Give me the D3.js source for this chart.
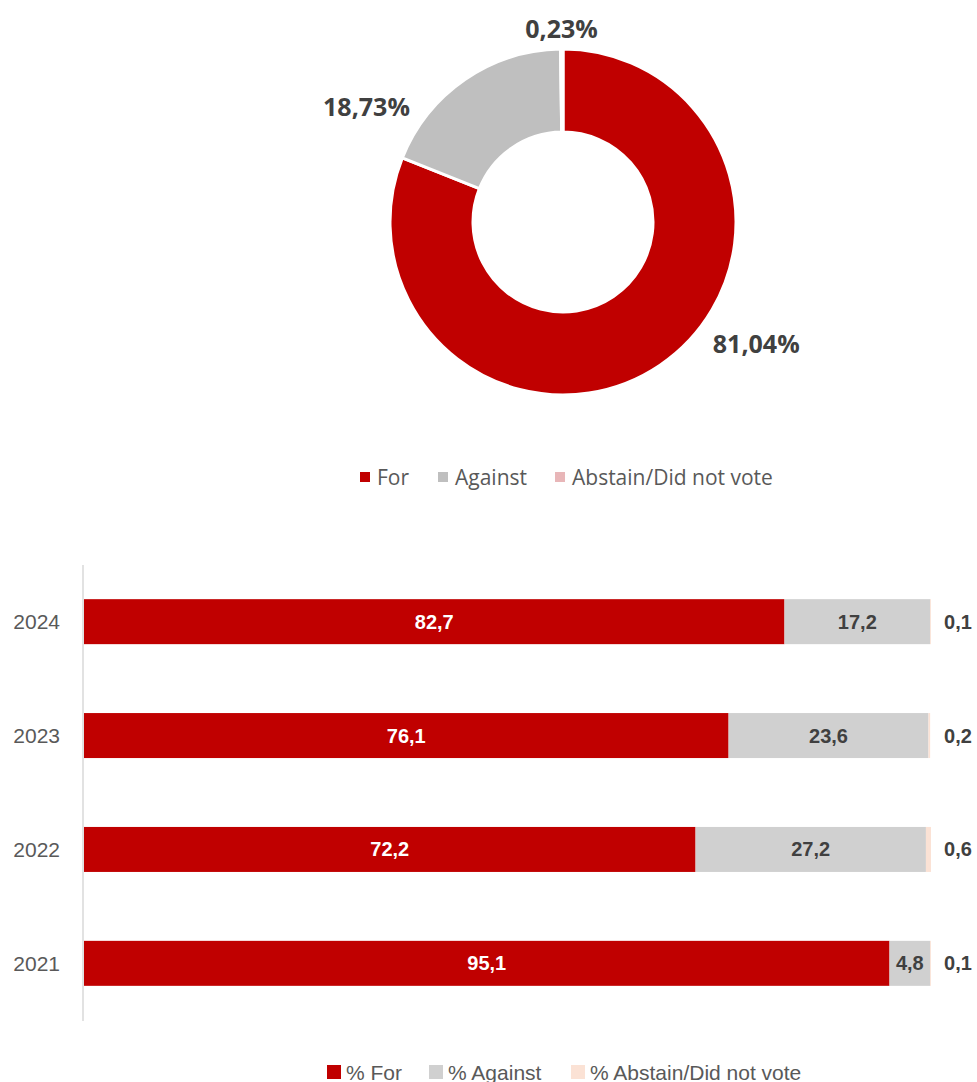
<!DOCTYPE html>
<html>
<head>
<meta charset="utf-8">
<script src="https://cdn.jsdelivr.net/npm/d3@7"></script>
<style>
  body { margin: 0; background: #fff; }
  svg { display: block; }
</style>
</head>
<body>
<div id="chart"></div>
<script>
(function() {

  let width  = 977,
      height = 1082;

  // donut data (latest vote)
  let donutLabels = ["For", "Against", "Abstain/Did not vote"];
  let donutValues = [81.04, 18.73, 0.23];
  let donutColors = ["#C00000", "#BFBFBF", "#E8B6B8"];

  // bar data (by year)
  let years       = ["2024", "2023", "2022", "2021"];
  let forVals     = [82.7, 76.1, 72.2, 95.1];
  let againstVals = [17.2, 23.6, 27.2, 4.8];
  let abstainVals = [0.1, 0.2, 0.6, 0.1];
  let barSeries   = ["% For", "% Against", "% Abstain/Did not vote"];
  let barColors   = ["#C00000", "#D0D0D0", "#FBE2D5"];

  let fmt = (v, d) => v.toFixed(d).replace(".", ",");

  let svg = d3.select("#chart")
    .append("svg")
    .attr  ("width", width)
    .attr  ("height", height);

  // ---------- donut ----------
  let cx = 563, cy = 222;
  let outerR = 173, innerR = 90;

  let pie = d3.pie().sort(null).value(d => d.value);
  let donutData = donutLabels.map((l, i) => ({ label: l, value: donutValues[i], color: donutColors[i] }));
  let arcs = pie(donutData);

  let arc = d3.arc().innerRadius(innerR).outerRadius(outerR);

  let gDonut = svg.append("g")
    .attr("transform", `translate(${cx},${cy})`);

  gDonut.selectAll("path")
    .data (arcs)
    .enter().append("path")
    .attr ("d", arc)
    .attr ("fill", d => d.data.color)
    .attr ("stroke", "#fff")
    .attr ("stroke-width", 3);

  // label positions: outside the ring, then nudged like excel does
  let labelArc = d3.arc().innerRadius(outerR + 36).outerRadius(outerR + 36);
  let labelNudge = [[76, -52], [-78, 56], [0, 15]];

  gDonut.selectAll("text.dl")
    .data (arcs)
    .enter().append("text")
    .attr ("class", "dl")
    .attr ("x", (d, i) => labelArc.centroid(d)[0] + labelNudge[i][0])
    .attr ("y", (d, i) => labelArc.centroid(d)[1] + labelNudge[i][1])
    .attr ("text-anchor", "middle")
    .attr ("dominant-baseline", "central")
    .style("font-family", "'Open Sans', sans-serif")
    .style("font-weight", "bold")
    .style("font-size", "25px")
    .style("fill", "#404040")
    .text (d => fmt(d.data.value, 2) + "%");

  // donut legend
  let leg1 = svg.append("g").attr("transform", "translate(360,477)");
  let leg1X = [0, 78, 195];
  let l1 = leg1.selectAll("g")
    .data (donutData)
    .enter().append("g")
    .attr ("transform", (d, i) => `translate(${leg1X[i]},0)`);
  l1.append("rect")
    .attr("x", 0).attr("y", -5)
    .attr("width", 10).attr("height", 10)
    .attr("fill", d => d.color);
  l1.append("text")
    .attr ("x", 17)
    .attr ("dominant-baseline", "central")
    .style("font-family", "'Open Sans', sans-serif")
    .style("font-size", "21px")
    .style("fill", "#595959")
    .text (d => d.label);

  // ---------- stacked bars ----------
  let x = d3.scaleLinear().domain([0, 100]).range([84, 931]);
  let y = d3.scaleBand()
    .domain(years)
    .range ([565, 1020])
    .paddingInner(0.605)
    .paddingOuter(0.3);

  let rows = years.map((yr, i) => ({ year: yr, "% For": forVals[i], "% Against": againstVals[i], "% Abstain/Did not vote": abstainVals[i] }));
  let stack = d3.stack().keys(barSeries);
  let layers = stack(rows);

  let gBars = svg.append("g");

  gBars.selectAll("g.layer")
    .data (layers)
    .enter().append("g")
    .attr ("class", "layer")
    .attr ("fill", (d, i) => barColors[i])
    .selectAll("rect")
    .data (d => d)
    .enter().append("rect")
    .attr ("x", d => x(d[0]))
    .attr ("y", d => y(d.data.year))
    .attr ("width", d => x(d[1]) - x(d[0]))
    .attr ("height", y.bandwidth());

  // axis line
  svg.append("line")
    .attr("x1", 83).attr("x2", 83)
    .attr("y1", 565).attr("y2", 1021)
    .attr("stroke", "#D9D9D9")
    .attr("stroke-width", 1.5);

  let labelFont = "'Liberation Sans', Arial, sans-serif";

  // year labels
  svg.selectAll("text.year")
    .data (years)
    .enter().append("text")
    .attr ("class", "year")
    .attr ("x", 60)
    .attr ("y", d => y(d) + y.bandwidth() / 2)
    .attr ("text-anchor", "end")
    .attr ("dominant-baseline", "central")
    .style("font-family", labelFont)
    .style("font-size", "21px")
    .style("fill", "#595959")
    .text (d => d);

  // value labels
  layers.forEach((layer, li) => {
    gBars.selectAll("text.v" + li)
      .data (layer)
      .enter().append("text")
      .attr ("class", "v" + li)
      .attr ("x", d => li === 2 ? x(100) + 27 : (x(d[0]) + x(d[1])) / 2)
      .attr ("y", d => y(d.data.year) + y.bandwidth() / 2)
      .attr ("text-anchor", "middle")
      .attr ("dominant-baseline", "central")
      .style("font-family", labelFont)
      .style("font-weight", "bold")
      .style("font-size", "20px")
      .style("fill", li === 0 ? "#fff" : "#404040")
      .text (d => fmt(d[1] - d[0], 1));
  });

  // bar legend
  let leg2 = svg.append("g").attr("transform", "translate(327,1072)");
  let leg2X = [0, 102, 244];
  let l2 = leg2.selectAll("g")
    .data (barSeries)
    .enter().append("g")
    .attr ("transform", (d, i) => `translate(${leg2X[i]},0)`);
  l2.append("rect")
    .attr("x", 0).attr("y", -7)
    .attr("width", 14).attr("height", 14)
    .attr("fill", (d, i) => barColors[i]);
  l2.append("text")
    .attr ("x", 19)
    .attr ("dominant-baseline", "central")
    .style("font-family", labelFont)
    .style("font-size", "21px")
    .style("fill", "#595959")
    .text (d => d);

})();
</script>
</body>
</html>
